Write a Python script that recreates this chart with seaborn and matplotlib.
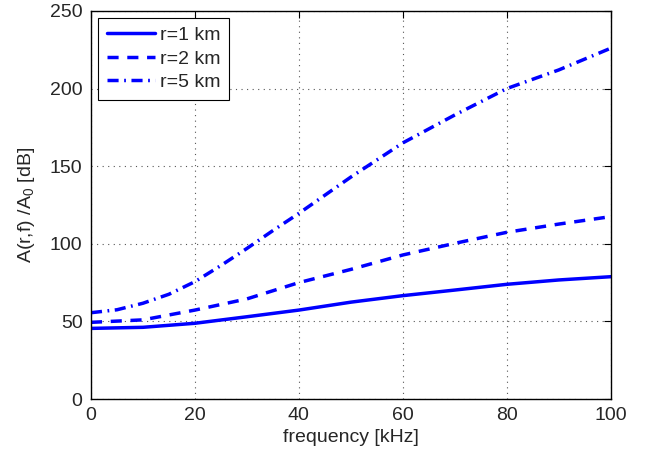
import matplotlib
matplotlib.use("Agg")
import matplotlib.pyplot as plt
import seaborn as sns
import pandas as pd

# Attenuation vs. frequency for three ranges
freq_r1 = [0, 10, 20, 30, 40, 50, 60, 70, 80, 90, 100]
att_r1 = [45.5, 46.2, 48.8, 53.0, 57.3, 62.4, 66.6, 70.2, 73.9, 76.7, 78.8]

freq_r2 = [0, 10, 20, 30, 40, 50, 60, 70, 80, 90, 100]
att_r2 = [49.4, 51.0, 57.3, 64.5, 75.0, 83.5, 92.8, 100.3, 107.4, 112.7, 117.5]

freq_r5 = [0, 5, 10, 15, 20, 25, 30, 35, 40, 50, 60, 70, 80, 90, 100]
att_r5 = [55.6, 57.5, 61.7, 67.5, 75.6, 86.0, 97.0, 108.5, 119.6, 143.0, 165.0, 183.0, 200.0, 212.0, 226.0]

labels = ["r=1 km", "r=2 km", "r=5 km"]

df = pd.concat([
    pd.DataFrame({"f": freq_r1, "A": att_r1, "r": labels[0]}),
    pd.DataFrame({"f": freq_r2, "A": att_r2, "r": labels[1]}),
    pd.DataFrame({"f": freq_r5, "A": att_r5, "r": labels[2]}),
])

sns.set_style("white")
plt.rcParams["font.family"] = ["Liberation Sans", "DejaVu Sans"]
plt.rcParams["mathtext.fontset"] = "custom"
plt.rcParams["mathtext.rm"] = "Liberation Sans"
plt.rcParams["mathtext.it"] = "Liberation Sans"

fig = plt.figure(figsize=(6.45, 4.55), dpi=100)
ax = fig.add_axes([0.141, 0.123, 0.806, 0.853])

styles = {labels[0]: "", labels[1]: (3.2, 2.5), labels[2]: (3.2, 1.6, 0.5, 1.6)}
sns.lineplot(data=df, x="f", y="A", style="r", style_order=labels,
             dashes=styles, color="#0000ff", linewidth=2.5, ax=ax,
             estimator=None, sort=False)

ax.set_xlim(0, 100)
ax.set_ylim(0, 250)
ax.set_xticks(range(0, 101, 20))
ax.set_yticks(range(0, 251, 50))
ax.grid(True, linestyle=(0, (1, 4)), color="#555555", linewidth=0.8)
ax.tick_params(direction="in", length=5, width=0.8, top=True, right=True,
               labelsize=14, pad=6, color="black")
for sp in ax.spines.values():
    sp.set_color("black")
    sp.set_linewidth(1.0)

ax.set_xlabel("frequency [kHz]", fontsize=14, labelpad=3)
ax.set_ylabel(r"A(r,f) /A$_0$ [dB]", fontsize=14, labelpad=9)

handles, _ = ax.get_legend_handles_labels()
leg = ax.legend(handles=handles[-3:], labels=labels, loc="upper left",
                bbox_to_anchor=(0.0135, 0.982), fontsize=14, frameon=True,
                fancybox=False, edgecolor="black", framealpha=1,
                handlelength=2.5, borderpad=0.45, labelspacing=0.3,
                handletextpad=0.25, borderaxespad=0)
leg.get_frame().set_linewidth(0.8)

fig.savefig("out.png", dpi=100)
